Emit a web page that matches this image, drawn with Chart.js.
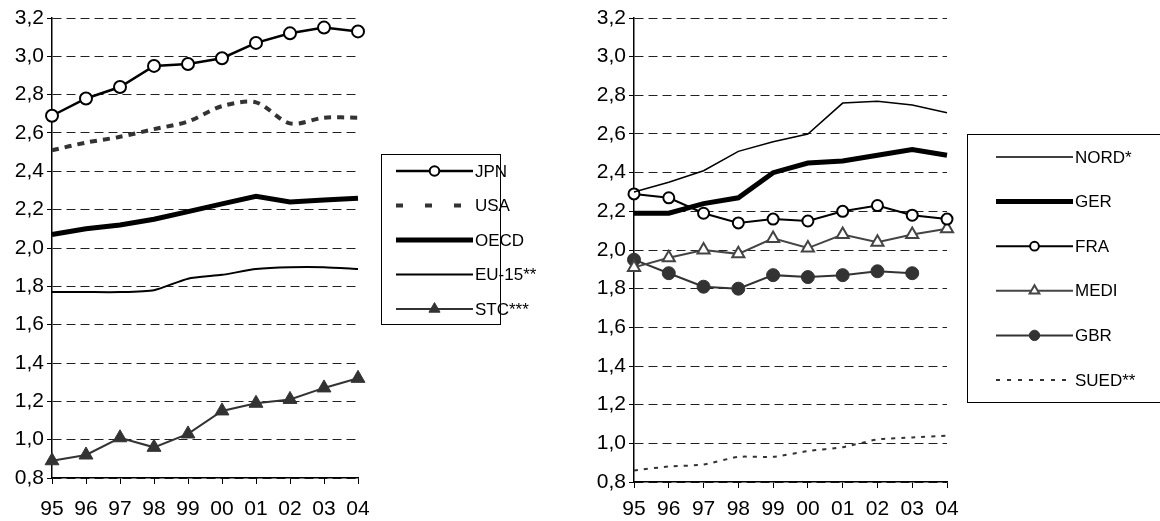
<!DOCTYPE html>
<html>
<head>
<meta charset="utf-8">
<script src="https://cdn.jsdelivr.net/npm/chart.js@4/dist/chart.umd.min.js"></script>
<style>
  body { margin: 0; background: #fff; width: 1160px; height: 521px; position: relative; overflow: hidden; }
  #left { position: absolute; left: 0; top: 0; }
  #right { position: absolute; left: 580px; top: 0; }
</style>
</head>
<body>
<canvas id="left" width="560" height="521"></canvas>
<canvas id="right" width="580" height="521"></canvas>
<script>
// years on the x axis
var years = ['95', '96', '97', '98', '99', '00', '01', '02', '03', '04'];

// left panel
var jpn  = [2.69, 2.78, 2.84, 2.95, 2.96, 2.99, 3.07, 3.12, 3.15, 3.13];
var usa  = [2.51, 2.55, 2.58, 2.62, 2.66, 2.74, 2.76, 2.65, 2.68, 2.68];
var oecd = [2.07, 2.10, 2.12, 2.15, 2.19, 2.23, 2.27, 2.24, 2.25, 2.26];
var eu15 = [1.77, 1.77, 1.77, 1.78, 1.84, 1.86, 1.89, 1.90, 1.90, 1.89];
var stc  = [0.89, 0.92, 1.01, 0.96, 1.03, 1.15, 1.19, 1.21, 1.27, 1.32];

// right panel
var nord = [2.30, 2.35, 2.41, 2.51, 2.56, 2.60, 2.76, 2.77, 2.75, 2.71];
var ger  = [2.19, 2.19, 2.24, 2.27, 2.40, 2.45, 2.46, 2.49, 2.52, 2.49];
var fra  = [2.29, 2.27, 2.19, 2.14, 2.16, 2.15, 2.20, 2.23, 2.18, 2.16];
var medi = [1.91, 1.96, 2.00, 1.98, 2.06, 2.01, 2.08, 2.04, 2.08, 2.11];
var gbr  = [1.95, 1.88, 1.81, 1.80, 1.87, 1.86, 1.87, 1.89, 1.88, null];
var sued = [0.86, 0.88, 0.89, 0.93, 0.93, 0.96, 0.98, 1.02, 1.03, 1.04];

var yMin = 0.8, yMax = 3.2, yStep = 0.2;

var FONT = '"Liberation Sans", Arial, Helvetica, sans-serif';
Chart.defaults.font.family = FONT;
Chart.defaults.font.size = 21;
Chart.defaults.color = '#000';

// legend drawn in a framed box, like the original
var boxLegend = {
  id: 'boxLegend',
  afterDraw: function(chart, args, opts) {
    var ctx = chart.ctx;
    ctx.save();
    ctx.strokeStyle = '#000';
    ctx.lineWidth = 1;
    ctx.strokeRect(opts.x + 0.5, opts.y + 0.5, opts.w, opts.h);
    ctx.font = '17px ' + FONT;
    ctx.textBaseline = 'middle';
    chart.data.datasets.forEach(function(ds, i) {
      var y = opts.firstY + i * opts.step;
      ctx.save();
      ctx.strokeStyle = ds.borderColor;
      ctx.lineWidth = ds.borderWidth;
      ctx.setLineDash(ds.legendDash || ds.borderDash || []);
      ctx.beginPath();
      ctx.moveTo(opts.x1, y);
      ctx.lineTo(opts.x2, y);
      ctx.stroke();
      ctx.restore();
      if (ds.pointRadius) {
        ctx.save();
        ctx.fillStyle = ds.pointBackgroundColor;
        ctx.strokeStyle = ds.pointBorderColor;
        ctx.lineWidth = ds.pointBorderWidth;
        Chart.helpers.drawPoint(ctx, {
          pointStyle: ds.pointStyle,
          radius: ds.pointRadius * 0.8,
          borderWidth: ds.pointBorderWidth,
          rotation: 0
        }, (opts.x1 + opts.x2) / 2, y);
        ctx.restore();
      }
      ctx.fillStyle = '#000';
      ctx.fillText(ds.label, opts.x2 + 2, y + 1);
    });
    ctx.restore();
  }
};

function yAxis(width) {
  return {
    min: yMin, max: yMax,
    ticks: {
      stepSize: yStep, color: '#000', padding: 3,
      callback: function(v) { return v.toFixed(1).replace('.', ','); }
    },
    grid: { color: '#222', lineWidth: 1, tickColor: '#000', tickLength: 5, tickBorderDash: [] },
    border: { display: true, color: '#000', width: 1.5, dash: [9, 5] },
    afterFit: function(s) { s.width = width; }
  };
}

function xAxis(height, pad) {
  return {
    offset: false,
    ticks: { color: '#000', padding: pad, maxRotation: 0, autoSkip: false },
    grid: { drawOnChartArea: false, drawTicks: true, tickLength: 6, tickColor: '#000', lineWidth: 1 },
    border: { display: true, color: '#000', width: 1.5 },
    afterFit: function(s) { s.height = height; }
  };
}

function series(label, data, o) {
  var ds = {
    label: label, data: data,
    borderColor: o.color || '#000',
    borderWidth: o.width || 2,
    borderDash: o.dash || [],
    legendDash: o.legendDash,
    tension: o.tension || 0,
    pointStyle: o.style || 'circle',
    pointRadius: o.radius || 0,
    pointHoverRadius: o.radius || 0,
    pointBackgroundColor: o.fill || '#fff',
    pointBorderColor: o.color || '#000',
    pointBorderWidth: o.pbw || 2,
    fill: false,
    clip: false
  };
  return ds;
}

new Chart(document.getElementById('left'), {
  type: 'line',
  data: {
    labels: years,
    datasets: [
      series('JPN', jpn, { color: '#000', width: 2.5, radius: 6, fill: '#fff' }),
      series('USA', usa, { color: '#333', width: 4, dash: [7, 6], legendDash: [7, 22], tension: 0.3 }),
      series('OECD', oecd, { color: '#000', width: 5 }),
      series('EU-15**', eu15, { color: '#000', width: 2, tension: 0.2 }),
      series('STC***', stc, { color: '#333', width: 2, style: 'triangle', radius: 8, fill: '#333', pbw: 1 })
    ]
  },
  options: {
    responsive: false,
    animation: false,
    events: [],
    layout: { padding: { top: 18, right: 202, left: 0, bottom: 0 } },
    scales: { x: xAxis(43, 13), y: yAxis(52) },
    plugins: {
      legend: { display: false },
      tooltip: { enabled: false },
      boxLegend: { x: 381, y: 154, w: 119, h: 170, x1: 396, x2: 473, firstY: 171, step: 34.5 }
    }
  },
  plugins: [boxLegend]
});

new Chart(document.getElementById('right'), {
  type: 'line',
  data: {
    labels: years,
    datasets: [
      series('NORD*', nord, { color: '#000', width: 1.5 }),
      series('GER', ger, { color: '#000', width: 5 }),
      series('FRA', fra, { color: '#000', width: 2, radius: 5.5, fill: '#fff' }),
      series('MEDI', medi, { color: '#444', width: 2, style: 'triangle', radius: 7, fill: '#fff' }),
      series('GBR', gbr, { color: '#333', width: 2, radius: 6.5, fill: '#333', pbw: 1 }),
      series('SUED**', sued, { color: '#333', width: 2, dash: [4, 6], legendDash: [4, 7], tension: 0.2 })
    ]
  },
  options: {
    responsive: false,
    animation: false,
    events: [],
    layout: { padding: { top: 18, right: 213, left: 0, bottom: 0 } },
    scales: { x: xAxis(39, 9), y: yAxis(54) },
    plugins: {
      legend: { display: false },
      tooltip: { enabled: false },
      boxLegend: { x: 387, y: 134, w: 220, h: 268, x1: 416, x2: 493, firstY: 157, step: 44.6 }
    }
  },
  plugins: [boxLegend]
});
</script>
</body>
</html>
